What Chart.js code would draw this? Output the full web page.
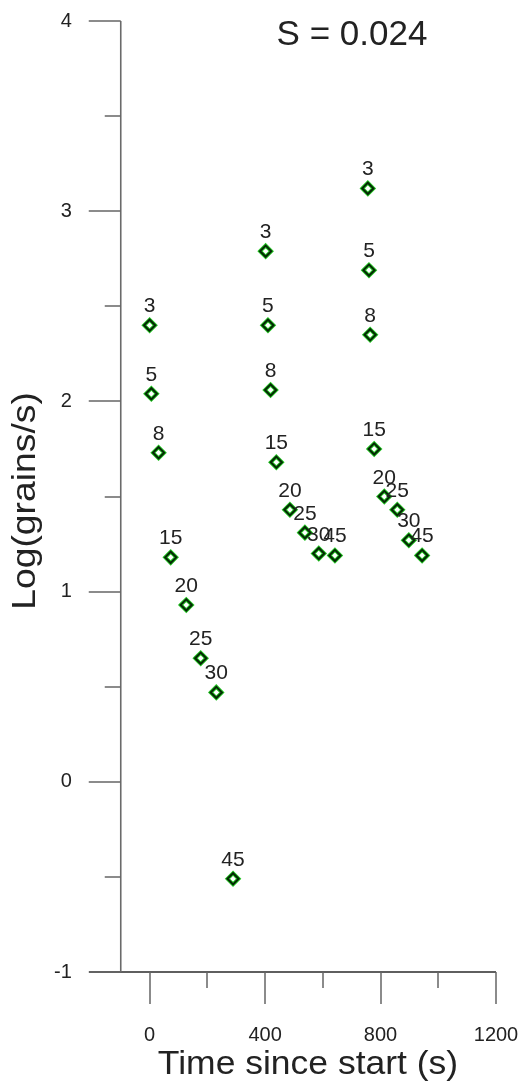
<!DOCTYPE html>
<html>
<head>
<meta charset="utf-8">
<script src="https://cdn.jsdelivr.net/npm/chart.js@4/dist/chart.umd.min.js"></script>
<style>
  html, body { margin: 0; padding: 0; background: #fff; }
  canvas { display: block; }
</style>
</head>
<body>
<canvas id="c" width="523" height="1085"></canvas>
<script>
// Sieve step labels shown above each measurement
const stepLabels = ['3', '5', '8', '15', '20', '25', '30', '45'];

// Run 1
const run1Time = [0, 6, 31, 73, 127, 177, 231, 289];
const run1Log  = [2.40, 2.04, 1.73, 1.18, 0.93, 0.65, 0.47, -0.51];
// Run 2
const run2Time = [402, 410, 419, 439, 486, 538, 586, 642];
const run2Log  = [2.79, 2.40, 2.06, 1.68, 1.43, 1.31, 1.20, 1.19];
// Run 3
const run3Time = [756, 760, 764, 778, 813, 858, 898, 944];
const run3Log  = [3.12, 2.69, 2.35, 1.75, 1.50, 1.43, 1.27, 1.19];

// Axis ticks
const xMajorTicks = [0, 400, 800, 1200];
const xMinorTicks = [200, 600, 1000];
const yMajorTicks = [-1, 0, 1, 2, 3, 4];
const yMinorTicks = [-0.5, 0.5, 1.5, 2.5, 3.5];

const chartTitle = 'S = 0.024';
const xAxisTitle = 'Time since start (s)';
const yAxisTitle = 'Log(grains/s)';

const FONT = '"Liberation Sans", Arial, Helvetica, sans-serif';

function toPoints(xs, ys) {
  return xs.map((x, i) => ({ x: x, y: ys[i] }));
}
const runs = [toPoints(run1Time, run1Log), toPoints(run2Time, run2Log), toPoints(run3Time, run3Log)];

const datasets = [];
// dark core of each diamond (drawn on top: lower order)
runs.forEach(pts => datasets.push({
  data: pts, pointStyle: 'rectRot', pointRadius: 5.6, order: 0,
  pointBorderColor: '#052805', pointBorderWidth: 2.0, pointBackgroundColor: 'rgba(0,0,0,0)',
  showLine: false, clip: false, isCore: true
}));
// bright green rim underneath
runs.forEach(pts => datasets.push({
  data: pts, pointStyle: 'rectRot', pointRadius: 5.6, order: 1,
  pointBorderColor: '#22c322', pointBorderWidth: 3.8, pointBackgroundColor: 'rgba(0,0,0,0)',
  showLine: false, clip: false
}));

// text stretched along its reading direction
function wideText(ctx, text, x, y, stretch) {
  ctx.save();
  ctx.translate(x, y);
  ctx.scale(stretch, 1);
  ctx.fillText(text, 0, 0);
  ctx.restore();
}

const axesPlugin = {
  id: 'axesAndText',
  afterDatasetsDraw(chart) {
    const ctx = chart.ctx;
    const xs = chart.scales.x, ys = chart.scales.y;
    const yAxisX = xs.getPixelForValue(-100);
    const xAxisY = ys.getPixelForValue(-1);
    ctx.save();

    // x axis line
    ctx.strokeStyle = '#2a2a2a';
    ctx.lineWidth = 1.5;
    ctx.beginPath();
    ctx.moveTo(chart.chartArea.left, xAxisY);
    ctx.lineTo(xs.getPixelForValue(1200), xAxisY);
    ctx.stroke();

    // y axis line
    ctx.strokeStyle = '#6a6a6a';
    ctx.lineWidth = 1.6;
    ctx.beginPath();
    ctx.moveTo(yAxisX, ys.getPixelForValue(4));
    ctx.lineTo(yAxisX, xAxisY);
    ctx.stroke();

    // ticks
    ctx.strokeStyle = '#666';
    ctx.lineWidth = 1.5;
    ctx.beginPath();
    xMajorTicks.forEach(v => { const p = Math.round(xs.getPixelForValue(v)); ctx.moveTo(p, xAxisY); ctx.lineTo(p, xAxisY + 32); });
    xMinorTicks.forEach(v => { const p = Math.round(xs.getPixelForValue(v)); ctx.moveTo(p, xAxisY); ctx.lineTo(p, xAxisY + 16); });
    yMajorTicks.forEach(v => { const p = Math.round(ys.getPixelForValue(v)); ctx.moveTo(yAxisX, p); ctx.lineTo(yAxisX - 32, p); });
    yMinorTicks.forEach(v => { const p = Math.round(ys.getPixelForValue(v)); ctx.moveTo(yAxisX, p); ctx.lineTo(yAxisX - 16, p); });
    ctx.stroke();

    // tick labels
    ctx.fillStyle = '#222';
    ctx.font = '20px ' + FONT;
    ctx.textAlign = 'center';
    ctx.textBaseline = 'alphabetic';
    xMajorTicks.forEach(v => ctx.fillText(String(v), xs.getPixelForValue(v), 1041));
    ctx.textAlign = 'right';
    ctx.textBaseline = 'middle';
    yMajorTicks.forEach(v => ctx.fillText(String(v), yAxisX - 49, ys.getPixelForValue(v)));

    // point labels
    ctx.font = '21px ' + FONT;
    ctx.textAlign = 'center';
    ctx.textBaseline = 'alphabetic';
    chart.data.datasets.forEach((ds, di) => {
      if (!ds.isCore) return;
      chart.getDatasetMeta(di).data.forEach((el, i) => {
        ctx.fillText(stepLabels[i], el.x, el.y - 13);
      });
    });

    // titles
    ctx.font = '35px ' + FONT;
    ctx.textAlign = 'center';
    ctx.fillText(chartTitle, 352, 45);

    ctx.font = '33px ' + FONT;
    wideText(ctx, xAxisTitle, 308, 1074, 1.075);

    ctx.save();
    ctx.translate(35, 501);
    ctx.rotate(-Math.PI / 2);
    wideText(ctx, yAxisTitle, 0, 0, 1.13);
    ctx.restore();

    ctx.restore();
  }
};

new Chart(document.getElementById('c'), {
  type: 'scatter',
  data: { datasets: datasets },
  options: {
    responsive: false,
    animation: false,
    layout: { padding: { left: 89, right: 27, top: 21, bottom: 113 } },
    plugins: { legend: { display: false }, tooltip: { enabled: false } },
    scales: {
      x: { type: 'linear', min: -210, max: 1200, display: false },
      y: { type: 'linear', min: -1, max: 4, display: false }
    }
  },
  plugins: [axesPlugin]
});
</script>
</body>
</html>
